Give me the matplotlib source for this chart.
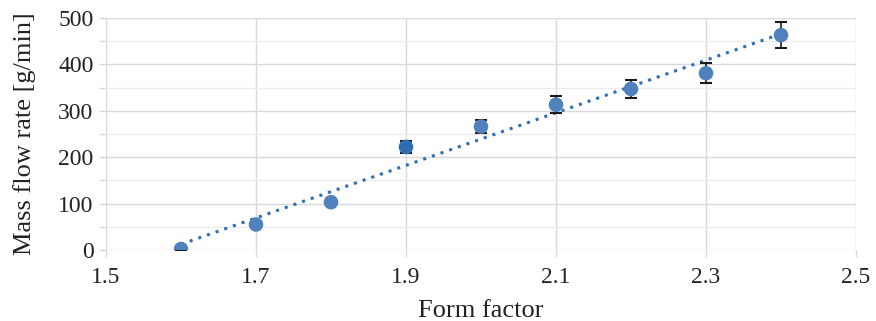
import matplotlib
matplotlib.use("Agg")
import matplotlib.pyplot as plt
import numpy as np

form_factor = [1.6, 1.7, 1.8, 1.9, 2.0, 2.1, 2.2, 2.3, 2.4]
mass_flow = [2, 55, 103, 222, 266, 313, 347, 381, 463]
errors = [3, 4, 5, 12, 14, 18, 20, 22, 28]
x_ticks = [1.5, 1.7, 1.9, 2.1, 2.3, 2.5]
y_ticks = [0, 100, 200, 300, 400, 500]

plt.rcParams['font.family'] = ['Liberation Serif', 'DejaVu Serif']

fig = plt.figure(figsize=(8.76, 3.21), dpi=100)
ax = fig.add_axes([106/876, 1-250/321, 750/876, 232/321])

grid_c = '#d9d9d9'
ax.set_xlim(1.5, 2.5)
ax.set_ylim(0, 500)
ax.set_xticks(x_ticks)
ax.set_xticklabels([f"{t:.1f}" for t in x_ticks])
ax.set_yticks(y_ticks)
ax.set_yticks([50, 150, 250, 350, 450], minor=True)
ax.grid(True, which='major', color=grid_c, linewidth=1.0, zorder=0)
ax.grid(True, which='minor', axis='y', color='#ececec', linewidth=1.0, zorder=0)
for s in ax.spines.values():
    s.set_visible(False)
ax.tick_params(axis='both', which='both', color=grid_c, length=5, width=1, labelsize=17, labelcolor='#222222')
ax.tick_params(axis='x', pad=7)
ax.tick_params(axis='y', pad=4)

# trendline
coef = np.polyfit(form_factor, mass_flow, 1)
xt = np.array([form_factor[0], form_factor[-1]])
ax.plot(xt, np.polyval(coef, xt), linestyle=(0, (1, 2)), color='#2e6db4', linewidth=2.2, zorder=2)

ax.errorbar(form_factor, mass_flow, yerr=errors, fmt='none', ecolor='#1a1a1a', elinewidth=1.2,
            capsize=4.5, capthick=1.5, zorder=3)
colors = ['#4f81bd'] * len(form_factor)
colors[3] = '#2e6db4'
ax.scatter(form_factor, mass_flow, s=110, c=colors, zorder=4, edgecolors='none')

ax.set_xlabel('Form factor', fontsize=19, color='#222222', labelpad=9)
ax.set_ylabel('Mass flow rate [g/min]', fontsize=19, color='#222222', labelpad=16)

fig.savefig('out.png', dpi=100)
